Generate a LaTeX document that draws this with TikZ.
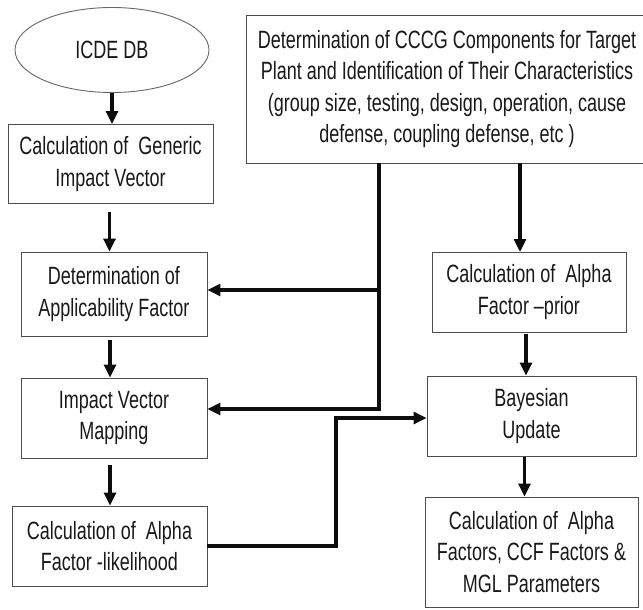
\documentclass[tikz,border=0pt]{standalone}
\usepackage{fontspec}
\setmainfont{Liberation Sans}[FakeStretch=0.72]
\usetikzlibrary{arrows.meta,shapes.geometric}
\newcommand\flowfont{\fontsize{25}{31.5}\selectfont}

\begin{document}
\begin{tikzpicture}[
    x=1pt,y=-1pt,
    >={Triangle[width=12pt,length=13pt]},
    box/.style={rectangle,draw=black!70,line width=0.9pt,inner sep=0pt,
                font=\flowfont,text=black!90,align=center},
    db/.style={ellipse,draw=black!60,line width=0.9pt,inner sep=0pt,
               font=\flowfont,text=black!90},
    arr/.style={->,line width=3.1pt,black!95},
  ]
  \useasboundingbox (0,0) rectangle (643,610);
  % left column
  \node[db,minimum width=194pt,minimum height=85pt]   (icde) at (112,50)    {ICDE DB};
  \node[box,minimum width=205pt,minimum height=79pt]  (gen)  at (110.5,164) {Calculation of\ \ Generic\\Impact Vector};
  \node[box,minimum width=186pt,minimum height=84pt]  (app)  at (114,294)   {Determination of\\Applicability Factor};
  \node[box,minimum width=186pt,minimum height=80pt]  (map)  at (114,418)   {Impact Vector\\Mapping};
  \node[box,minimum width=195pt,minimum height=80pt]  (lik)  at (109.5,546) {Calculation of\ \ Alpha\\Factor -likelihood};
  % right column
  \node[box,minimum width=402pt,minimum height=148pt] (cccg) at (447,89)
       {Determination of CCCG Components for Target\\Plant and Identification of Their Characteristics\\(group size, testing, design, operation, cause\\defense, coupling defense, etc )};
  \node[box,minimum width=194pt,minimum height=80pt]  (pri)  at (529,292)   {Calculation of\ \ Alpha\\Factor --prior};
  \node[box,minimum width=209pt,minimum height=80pt]  (bay)  at (531.5,416) {Bayesian\\Update};
  \node[box,minimum width=213pt,minimum height=110pt] (fin)  at (531.5,552) {Calculation of\ \ Alpha\\Factors, CCF Factors \&\\MGL Parameters};
  % junctions
  \coordinate (ja) at (379,290);
  \coordinate (jb) at (379,409);
  \coordinate (jc) at (520,252);
  \coordinate (jd) at (336,418);
  % connectors
  \draw[arr]                  (icde.south) -- (icde.south |- gen.north);
  \draw[arr,shorten <=8pt]    ([xshift=-1pt]gen.south) -- ([xshift=-1pt]gen.south |- app.north);
  \draw[arr,shorten <=4pt]    ([xshift=-4pt]app.south) -- ([xshift=-4pt]app.south |- map.north);
  \draw[arr,shorten <=7pt]    ([xshift=-4pt]map.south) -- ([xshift=-4pt]map.south |- lik.north);
  \draw[arr]                  (cccg.south -| jb) -- (jb) -- (map.east |- jb);
  \draw[arr]                  (ja) -- (app.east |- ja);
  \draw[arr]                  (cccg.south -| jc) -- (jc);
  \draw[arr,shorten <=2pt]    ([xshift=-3pt]pri.south) -- ([xshift=-3pt]pri.south |- bay.north);
  \draw[arr,shorten <=1pt]    ([xshift=-7pt]bay.south) -- ([xshift=-7pt]bay.south |- fin.north);
  \draw[arr]                  (lik.east) -| (jd) -- (bay.west |- jd);
\end{tikzpicture}
\end{document}
